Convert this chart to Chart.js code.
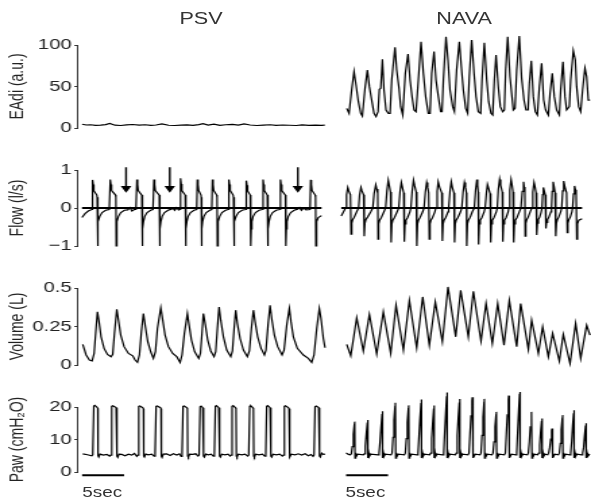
<!DOCTYPE html>
<html>
<head>
<meta charset="utf-8">
<script src="https://cdn.jsdelivr.net/npm/chart.js@4.4.1/dist/chart.umd.min.js"></script>
<style>
  html, body { margin: 0; padding: 0; background: #fff; overflow: hidden; }
  #wrap {
    position: absolute; left: 0; top: 0; width: 438px; height: 502px;
    transform: scaleX(1.3493); transform-origin: 0 0;
    font-family: "Liberation Sans", Arial, sans-serif; color: #333;
  }
  #wrap canvas { position: absolute; left: 0; }
  .lbl { position: absolute; white-space: nowrap; text-align: center; }
</style>
</head>
<body>
<div id="wrap">
  <div class="lbl" style="left:119px;top:10px;width:60px;font-size:16px;line-height:18px;">PSV</div>
  <div class="lbl" style="left:314px;top:10px;width:60px;font-size:16px;line-height:18px;">NAVA</div>
  <canvas id="rowEadi"></canvas>
  <canvas id="rowFlow"></canvas>
  <canvas id="rowVol"></canvas>
  <canvas id="rowPaw"></canvas>
  <div class="lbl" style="left:61px;top:484px;font-size:14px;line-height:16px;text-align:left;">5sec</div>
  <div class="lbl" style="left:256px;top:484px;font-size:14px;line-height:16px;text-align:left;">5sec</div>
</div>
<script>
// time in seconds, each column starts at 0
const psvEadi = [[0,4.5],[0.5,3.6],[1.0,3.9],[1.6,3.2],[2.2,3.5],[2.8,4.0],[3.3,5.4],[3.9,3.4],[4.6,3.0],[5.3,3.8],[6.0,4.2],[6.8,3.5],[7.5,3.9],[8.2,3.1],[8.8,3.6],[9.5,5.0],[10.3,3.3],[11.0,3.0],[11.8,3.4],[12.5,3.8],[13.2,3.2],[13.9,4.1],[14.4,5.3],[15.0,3.6],[15.7,4.6],[16.4,3.2],[17.1,3.9],[17.9,4.4],[18.6,3.5],[19.3,4.9],[20.0,3.6],[20.8,3.0],[21.6,3.4],[22.4,3.9],[23.1,3.1],[23.9,3.6],[24.7,3.3],[25.5,3.0],[26.2,3.7],[27.0,3.2],[27.8,3.5],[28.5,3.1],[28.9,3.4]];

const navaEadi = [[0.08,23.7],[0.36,17.7],[0.67,45.8],[0.95,67.9],[1.19,51.8],[1.47,31.7],[1.75,17.7],[1.94,14.5],[2.26,47.8],[2.54,69.9],[2.78,49.8],[3.02,35.7],[3.33,17.7],[3.57,13.7],[3.81,19.7],[3.97,46.6],[4.13,47.8],[4.33,82.7],[4.52,45.8],[4.76,21.7],[5.04,17.7],[5.24,17.7],[5.44,57.8],[5.83,97.2],[6.03,69.9],[6.31,47.8],[6.51,25.7],[6.75,15.7],[7.06,65.9],[7.38,89.2],[7.62,57.8],[7.86,37.8],[8.10,21.7],[8.33,19.7],[8.61,57.8],[8.93,104.0],[9.21,65.9],[9.48,37.8],[9.80,17.7],[10.00,17.7],[10.20,65.9],[10.48,92.0],[10.71,57.8],[10.99,37.8],[11.27,19.7],[11.43,19.7],[11.59,57.8],[11.90,110.0],[12.14,81.9],[12.38,45.8],[12.70,25.7],[12.90,19.7],[13.17,69.9],[13.49,104.0],[13.73,73.9],[13.97,45.8],[14.25,23.7],[14.48,17.7],[14.68,61.8],[14.96,106.0],[15.24,65.9],[15.48,37.8],[15.75,19.7],[16.03,17.7],[16.19,57.8],[16.47,102.8],[16.75,57.8],[16.98,31.7],[17.26,17.7],[17.46,15.7],[17.66,57.8],[17.86,88.0],[18.13,49.8],[18.37,25.7],[18.65,19.7],[18.85,21.7],[19.01,69.9],[19.25,110.0],[19.52,61.8],[19.76,37.8],[19.92,21.7],[20.12,23.7],[20.32,69.9],[20.63,110.8],[20.91,59.8],[21.19,33.7],[21.43,21.7],[21.67,21.7],[21.83,53.8],[22.06,81.1],[22.30,37.8],[22.54,19.7],[22.78,15.7],[23.02,49.8],[23.29,77.9],[23.53,33.7],[23.77,21.7],[24.09,15.7],[24.29,41.8],[24.56,65.9],[24.80,37.8],[25.08,21.7],[25.40,15.7],[25.56,45.8],[25.83,79.9],[26.07,37.8],[26.27,21.7],[26.59,25.7],[26.75,57.8],[27.06,93.2],[27.30,81.9],[27.46,49.8],[27.70,25.7],[27.94,19.7],[28.17,45.8],[28.45,71.9],[28.65,61.8],[28.85,33.7],[29.05,33.7]];

const psvFlow = [[0,-0.25],[0.36,-0.15],[0.75,-0.08],
  [1.19,-0.04],[1.27,0.74],[1.35,0.62],[1.43,0.45],[1.79,0.34],[1.83,0.28],[1.87,-1.0],[1.90,-0.55],[1.98,-0.36],[2.14,-0.22],[2.42,-0.12],[2.86,-0.06],
  [3.29,-0.04],[3.41,0.75],[3.49,0.62],[3.57,0.46],[4.05,0.34],[4.09,0.28],[4.13,-1.0],[4.17,-0.55],[4.25,-0.36],[4.40,-0.22],[4.68,-0.12],[5.12,-0.06],[5.52,-0.05],[5.79,0.01],[6.03,-0.08],[6.31,-0.04],
  [6.51,-0.04],[6.63,0.75],[6.71,0.62],[6.79,0.46],[7.22,0.34],[7.26,0.28],[7.30,-1.0],[7.34,-0.55],[7.42,-0.36],[7.58,-0.22],[7.86,-0.12],[8.29,-0.06],
  [8.57,-0.04],[8.69,0.75],[8.77,0.62],[8.85,0.46],[9.33,0.34],[9.37,0.28],[9.40,-1.0],[9.44,-0.55],[9.52,-0.36],[9.68,-0.22],[9.96,-0.12],[10.40,-0.06],[10.79,-0.03],[10.95,0.0],[11.19,-0.06],[11.43,0.01],[11.67,-0.05],
  [11.83,-0.04],[11.90,0.78],[11.98,0.63],[12.06,0.46],[12.46,0.34],[12.50,0.28],[12.54,-1.0],[12.58,-0.55],[12.66,-0.36],[12.82,-0.22],[13.10,-0.12],[13.53,-0.06],
  [13.85,-0.04],[13.93,0.75],[14.01,0.62],[14.09,0.46],[14.37,0.34],[14.40,0.28],[14.44,-1.0],[14.48,-0.55],[14.56,-0.36],[14.72,-0.22],[15.00,-0.12],[15.44,-0.06],
  [15.67,-0.04],[15.75,0.75],[15.83,0.62],[15.91,0.46],[16.27,0.34],[16.31,0.28],[16.35,-1.0],[16.39,-0.55],[16.47,-0.36],[16.63,-0.22],[16.90,-0.12],[17.34,-0.06],
  [17.66,-0.04],[17.74,0.75],[17.82,0.62],[17.90,0.46],[18.25,0.34],[18.29,0.28],[18.33,-1.0],[18.37,-0.55],[18.45,-0.36],[18.61,-0.22],[18.89,-0.12],[19.33,-0.06],
  [19.76,-0.04],[19.84,0.72],[19.92,0.60],[20.00,0.45],[20.32,0.34],[20.36,0.28],[20.40,-1.0],[20.44,-0.55],[20.52,-0.36],[20.67,-0.22],[20.95,-0.12],[21.39,-0.06],
  [21.79,-0.04],[21.87,0.75],[21.94,0.62],[22.02,0.46],[22.38,0.34],[22.42,0.28],[22.46,-1.0],[22.50,-0.55],[22.58,-0.36],[22.74,-0.22],[23.02,-0.12],[23.45,-0.06],
  [23.89,-0.04],[23.97,0.75],[24.05,0.62],[24.13,0.46],[24.56,0.34],[24.60,0.28],[24.64,-1.0],[24.68,-0.55],[24.76,-0.36],[24.92,-0.22],[25.20,-0.12],[25.63,-0.06],[26.03,-0.03],[26.27,0.01],[26.51,-0.06],[26.75,0.0],[27.06,-0.05],
  [27.54,-0.04],[27.62,0.74],[27.70,0.62],[27.78,0.46],[28.17,0.34],[28.21,0.28],[28.25,-1.0],[28.29,-0.55],[28.37,-0.36],[28.53,-0.25],[28.93,-0.2]];

const navaFlow = [[-0.12,-0.21],[0.16,-0.10],
  [0.40,0],[0.52,0.35],[0.67,0.54],[0.79,0.45],[0.99,0.35],[1.07,-0.69],[1.15,-0.40],[1.27,-0.30],[1.43,-0.25],[1.75,-0.10],
  [1.98,0],[2.10,0.35],[2.26,0.54],[2.38,0.45],[2.58,0.35],[2.66,-0.74],[2.74,-0.40],[2.86,-0.30],[3.06,-0.24],[3.45,-0.10],
  [3.69,0],[3.85,0.38],[4.05,0.61],[4.17,0.50],[4.29,0.38],[4.33,-0.82],[4.40,-0.42],[4.52,-0.32],[4.72,-0.25],[5.04,-0.10],
  [5.24,0],[5.40,0.45],[5.56,0.73],[5.67,0.60],[5.83,0.42],[5.91,-0.91],[5.99,-0.42],[6.11,-0.32],[6.31,-0.25],[6.63,-0.10],
  [6.83,0],[6.98,0.42],[7.14,0.67],[7.26,0.55],[7.42,0.40],[7.50,-0.89],[7.58,-0.42],[7.70,-0.32],[7.90,-0.25],[8.17,-0.10],
  [8.29,0],[8.45,0.45],[8.61,0.73],[8.73,0.60],[8.93,0.42],[9.01,-1.0],[9.09,-0.42],[9.21,-0.32],[9.40,-0.25],[9.72,-0.10],
  [9.88,0],[10.04,0.42],[10.20,0.67],[10.32,0.55],[10.44,0.40],[10.52,-0.82],[10.60,-0.42],[10.71,-0.32],[10.91,-0.25],[11.19,-0.10],
  [11.31,0],[11.47,0.44],[11.59,0.69],[11.75,0.55],[12.02,0.40],[12.10,-0.87],[12.18,-0.42],[12.30,-0.32],[12.50,-0.25],[12.78,-0.10],
  [12.86,0],[13.02,0.44],[13.17,0.69],[13.29,0.55],[13.49,0.40],[13.57,-0.91],[13.65,-0.42],[13.77,-0.32],[13.97,-0.25],[14.29,-0.10],
  [14.44,0],[14.60,0.42],[14.76,0.67],[14.88,0.55],[15.00,0.40],[15.04,-1.0],[15.12,-0.42],[15.24,-0.32],[15.44,-0.25],[15.71,-0.10],
  [15.95,0],[16.11,0.47],[16.27,0.75],[16.35,0.60],[16.43,0.42],[16.47,-0.96],[16.55,-0.42],[16.67,-0.32],[16.87,-0.25],[17.14,-0.10],
  [17.26,0],[17.42,0.40],[17.54,0.62],[17.70,0.50],[17.86,0.38],[17.94,-0.91],[18.02,-0.42],[18.13,-0.32],[18.33,-0.25],[18.61,-0.10],
  [18.73,0],[18.85,0.47],[19.01,0.75],[19.13,0.60],[19.33,0.42],[19.40,-0.89],[19.48,-0.42],[19.60,-0.32],[19.80,-0.25],[20.04,-0.10],
  [20.12,0],[20.24,0.47],[20.40,0.75],[20.52,0.60],[20.63,0.42],[20.71,-0.91],[20.79,-0.42],[20.91,-0.32],[21.11,-0.25],[21.39,-0.10],
  [21.59,0],[21.75,0.44],[21.90,0.69],[21.98,0.55],[22.06,0.40],[22.10,-0.74],[22.18,-0.40],[22.30,-0.30],[22.46,-0.24],[22.70,-0.10],
  [22.90,0],[23.02,0.42],[23.17,0.67],[23.29,0.55],[23.41,0.40],[23.49,-0.71],[23.57,-0.40],[23.69,-0.30],[23.85,-0.24],[24.01,-0.12],
  [24.13,0],[24.21,0.35],[24.29,0.54],[24.40,0.45],[24.52,0.35],[24.60,-0.54],[24.68,-0.38],[24.80,-0.30],[24.96,-0.24],[25.20,-0.10],
  [25.28,0],[25.36,0.44],[25.48,0.69],[25.60,0.55],[25.71,0.40],[25.79,-0.74],[25.87,-0.40],[25.99,-0.30],[26.15,-0.24],[26.39,-0.10],
  [26.51,0],[26.63,0.45],[26.75,0.71],[26.90,0.55],[27.10,0.40],[27.18,-0.65],[27.26,-0.40],[27.38,-0.30],[27.54,-0.24],[27.74,-0.10],
  [27.82,0],[27.94,0.37],[28.06,0.58],[28.17,0.48],[28.25,0.38],[28.33,-0.82],[28.41,-0.42],[28.57,-0.32],[28.97,-0.28]];

// ineffective efforts marked in the PSV flow trace
const arrowTimes = [5.32, 10.6, 26.07];
const arrowTop = 1.07;
const arrowHead = 0.52;

const psvVolume = [[0.08,0.134],[0.48,0.065],[0.87,0.032],[1.19,0.026],[1.43,0.075],[1.63,0.216],[1.83,0.345],[2.02,0.280],[2.26,0.183],[2.62,0.108],[3.02,0.069],[3.45,0.054],[3.65,0.069],[3.85,0.205],[4.13,0.362],[4.33,0.291],[4.60,0.194],[5.00,0.119],[5.52,0.075],[6.03,0.060],[6.31,0.032],[6.59,0.017],[6.83,0.065],[7.06,0.216],[7.30,0.334],[7.54,0.248],[7.82,0.151],[8.17,0.086],[8.49,0.043],[8.73,0.086],[8.97,0.237],[9.37,0.371],[9.60,0.291],[9.88,0.194],[10.28,0.119],[10.79,0.075],[11.27,0.054],[11.67,0.017],[11.90,0.065],[12.18,0.205],[12.54,0.334],[12.74,0.259],[13.02,0.162],[13.41,0.086],[13.89,0.043],[14.09,0.075],[14.29,0.216],[14.44,0.334],[14.68,0.259],[14.96,0.162],[15.32,0.091],[15.71,0.054],[15.91,0.086],[16.11,0.237],[16.31,0.377],[16.51,0.291],[16.83,0.183],[17.22,0.097],[17.70,0.054],[17.90,0.091],[18.10,0.237],[18.29,0.356],[18.49,0.270],[18.81,0.172],[19.21,0.097],[19.68,0.054],[19.92,0.091],[20.16,0.237],[20.40,0.356],[20.60,0.280],[20.91,0.183],[21.31,0.108],[21.71,0.065],[21.90,0.097],[22.14,0.259],[22.38,0.388],[22.58,0.302],[22.90,0.194],[23.29,0.119],[23.81,0.065],[24.05,0.097],[24.37,0.259],[24.68,0.367],[24.88,0.280],[25.16,0.183],[25.63,0.108],[26.35,0.065],[26.94,0.043],[27.34,0.017],[27.62,0.065],[27.94,0.237],[28.25,0.367],[28.45,0.302],[28.73,0.172],[28.93,0.112]];

const navaVolume = [[0.08,0.134],[0.56,0.060],[1.27,0.306],[2.06,0.091],[2.78,0.328],[3.65,0.071],[4.44,0.345],[5.32,0.075],[5.95,0.388],[6.83,0.097],[7.54,0.420],[8.41,0.112],[9.13,0.442],[9.92,0.129],[10.63,0.410],[11.47,0.151],[12.14,0.507],[13.06,0.183],[13.65,0.485],[14.56,0.183],[15.16,0.479],[16.07,0.155],[16.67,0.399],[17.42,0.140],[18.06,0.399],[18.81,0.129],[19.44,0.420],[20.32,0.119],[20.79,0.399],[21.71,0.103],[22.10,0.291],[22.90,0.075],[23.41,0.248],[24.09,0.054],[24.60,0.205],[25.40,0.026],[25.87,0.198],[26.67,0.011],[27.34,0.270],[27.94,0.043],[28.65,0.259],[29.05,0.194]];

const psvPaw = [[0.08,5.6],[0.63,5.3],[1.15,5.0],[1.27,5.3],[1.39,20.3],[1.51,20.5],[1.79,19.9],[1.87,19.6],[1.90,5.0],[1.98,4.6],[2.14,5.5],[2.54,5.2],[2.94,5.4],
  [3.29,4.9],[3.41,5.2],[3.53,20.2],[3.65,20.4],[4.05,19.8],[4.13,19.5],[4.17,4.9],[4.25,4.5],[4.40,5.5],[4.72,5.4],[5.12,5.0],[5.52,5.5],[5.91,5.2],[6.23,5.7],
  [6.51,4.8],[6.63,5.2],[6.75,20.2],[6.87,20.3],[7.22,19.8],[7.30,19.5],[7.34,4.9],[7.42,4.6],[7.58,5.5],[7.90,5.3],[8.29,5.5],
  [8.57,4.9],[8.69,5.2],[8.81,20.2],[8.93,20.3],[9.33,19.8],[9.40,19.5],[9.44,4.9],[9.52,4.5],[9.68,5.5],[10.08,5.6],[10.48,5.1],[10.87,5.6],[11.27,5.2],[11.59,5.6],
  [11.79,4.8],[11.90,5.2],[12.02,20.2],[12.14,20.3],[12.46,19.8],[12.54,19.5],[12.58,4.9],[12.66,4.6],[12.82,5.5],[13.17,5.4],[13.53,5.6],
  [13.81,4.9],[13.93,5.2],[14.05,20.1],[14.17,20.3],[14.37,19.8],[14.44,19.5],[14.48,4.9],[14.56,4.6],[14.72,5.5],[15.04,5.3],[15.36,5.5],
  [15.63,4.9],[15.75,5.2],[15.87,20.2],[15.99,20.4],[16.27,19.8],[16.35,19.5],[16.39,4.9],[16.47,4.6],[16.63,5.5],[17.02,5.3],[17.38,5.5],
  [17.62,4.9],[17.74,5.2],[17.86,20.2],[17.98,20.4],[18.25,19.8],[18.33,19.5],[18.37,4.9],[18.45,4.6],[18.61,5.5],[19.01,5.3],[19.40,5.5],
  [19.72,4.9],[19.84,5.2],[19.96,20.2],[20.08,20.4],[20.32,19.8],[20.40,19.5],[20.44,4.9],[20.52,4.6],[20.67,5.5],[21.07,5.3],[21.47,5.5],
  [21.75,4.9],[21.87,5.2],[21.98,20.2],[22.10,20.4],[22.38,19.8],[22.46,19.5],[22.50,4.9],[22.58,4.6],[22.74,5.5],[23.13,5.3],[23.53,5.5],
  [23.85,4.9],[23.97,5.2],[24.09,20.2],[24.21,20.4],[24.56,19.8],[24.64,19.5],[24.68,4.9],[24.76,4.6],[24.92,5.5],[25.36,5.3],[25.75,5.6],[26.15,5.2],[26.55,5.6],[26.94,5.0],[27.26,5.4],
  [27.50,4.8],[27.62,5.2],[27.74,20.1],[27.86,20.3],[28.17,19.8],[28.25,19.5],[28.29,4.9],[28.37,4.6],[28.53,5.8],[28.73,5.4],[28.93,5.5]];

const navaPaw = [[0,5.9],[0.28,5.4],
  [0.52,5.3],[0.63,5.6],[0.75,7.8],[0.87,11.6],[0.99,14.7],[1.03,15.5],[1.07,4.3],[1.15,5.9],[1.23,4.8],[1.39,5.5],
  [2.06,5.3],[2.18,5.6],[2.30,8.0],[2.42,12.0],[2.54,15.2],[2.58,16.0],[2.62,4.3],[2.70,5.9],[2.78,4.8],[2.94,5.5],
  [3.81,5.3],[3.93,5.8],[4.05,9.4],[4.17,14.0],[4.29,17.8],[4.33,18.7],[4.37,4.3],[4.44,5.9],[4.52,4.8],[4.68,5.5],
  [5.36,5.3],[5.48,5.8],[5.60,10.7],[5.71,16.0],[5.83,20.2],[5.87,21.3],[5.91,4.3],[5.99,5.9],[6.07,4.8],[6.23,5.5],
  [6.94,5.3],[7.06,5.8],[7.18,10.3],[7.30,15.4],[7.42,19.5],[7.46,20.5],[7.50,4.3],[7.58,5.9],[7.66,4.8],[7.82,5.5],
  [8.45,5.3],[8.57,5.8],[8.69,11.2],[8.81,16.7],[8.93,21.2],[8.97,22.3],[9.01,4.3],[9.09,5.9],[9.17,4.8],[9.33,5.5],
  [9.96,5.3],[10.08,5.8],[10.20,10.3],[10.32,15.4],[10.44,19.5],[10.48,20.5],[10.52,4.3],[10.60,5.9],[10.67,4.8],[10.83,5.5],
  [11.51,5.3],[11.63,5.8],[11.75,12.3],[11.87,18.4],[11.98,23.3],[12.02,24.5],[12.06,4.3],[12.14,5.9],[12.22,4.8],[12.38,5.5],
  [13.02,5.3],[13.13,5.8],[13.25,11.3],[13.37,16.9],[13.49,21.4],[13.53,22.5],[13.57,4.3],[13.65,5.9],[13.73,4.8],[13.89,5.5],
  [14.52,5.3],[14.64,5.8],[14.76,11.5],[14.88,17.3],[15.00,21.9],[15.04,23.0],[15.08,4.3],[15.16,5.9],[15.24,4.8],[15.40,5.5],
  [15.95,5.3],[16.07,5.8],[16.19,11.3],[16.31,16.9],[16.43,21.4],[16.47,22.5],[16.51,4.3],[16.59,5.9],[16.67,4.8],[16.83,5.5],
  [17.38,5.3],[17.50,5.8],[17.62,9.3],[17.74,13.9],[17.86,17.6],[17.90,18.5],[17.94,4.3],[18.02,5.9],[18.10,4.8],[18.25,5.5],
  [18.85,5.3],[18.97,5.8],[19.09,11.8],[19.21,17.6],[19.33,22.3],[19.37,23.5],[19.40,4.3],[19.48,5.9],[19.56,4.8],[19.72,5.5],
  [20.20,5.3],[20.32,5.8],[20.44,12.7],[20.56,19.1],[20.67,24.1],[20.71,25.4],[20.75,4.3],[20.83,5.9],[20.91,4.8],[21.07,5.5],
  [21.59,5.3],[21.71,5.8],[21.83,9.3],[21.94,13.9],[22.06,17.6],[22.10,18.5],[22.14,4.3],[22.22,5.9],[22.30,4.8],[22.46,5.5],
  [22.82,5.3],[22.94,5.8],[23.06,8.3],[23.17,12.4],[23.29,15.7],[23.33,16.5],[23.37,4.3],[23.45,5.9],[23.53,4.8],[23.69,5.5],
  [24.01,5.3],[24.13,5.8],[24.25,7.5],[24.37,10.1],[24.48,12.7],[24.52,13.4],[24.56,4.3],[24.64,5.9],[24.72,4.8],[24.88,5.5],
  [25.28,5.3],[25.40,5.8],[25.52,8.8],[25.63,13.1],[25.75,16.6],[25.79,17.5],[25.83,4.3],[25.91,5.9],[25.99,4.8],[26.15,5.5],
  [26.63,5.3],[26.75,5.8],[26.87,9.5],[26.98,14.3],[27.10,18.1],[27.14,19.0],[27.18,4.3],[27.26,5.9],[27.34,4.8],[27.50,5.5],
  [28.06,5.3],[28.17,5.8],[28.29,7.5],[28.41,11.3],[28.53,14.3],[28.57,15.0],[28.61,4.3],[28.69,5.9],[28.77,4.8],[29.01,5.5]];

const eadiTicks = [0, 50, 100];
const flowTicks = [-1, 0, 1];
const flowTickLabels = ["\u22121", "0", "1"];
const volTicks = [0, 0.25, 0.5];
const pawTicks = [0, 10, 20];

const scaleBarSec = 5;
const scaleBarLevel = -1.0;

// layout
const X_MIN = -0.6;
const X_MAX = 60.6;
const NAVA_SHIFT = 31.43;
const AXIS_W = 57.1;
const FONT = '"Liberation Sans", Arial, sans-serif';
const INK = "#000";
const AXIS = "#333";

function pts(pairs, shift) {
  return pairs.map((p) => ({ x: p[0] + shift, y: p[1] }));
}

function trace(pairs, shift, width) {
  return {
    data: pts(pairs, shift),
    showLine: true,
    borderColor: INK,
    borderWidth: width || 1.2,
    pointRadius: 0,
    clip: false,
  };
}

function arrow(t) {
  return {
    data: [{ x: t, y: arrowTop }, { x: t, y: arrowHead }],
    showLine: true,
    borderColor: "#000",
    backgroundColor: "#000",
    borderWidth: 1.4,
    pointRadius: [0, 3.2],
    pointStyle: "triangle",
    rotation: 180,
    clip: false,
  };
}

function makeRow(id, top, height, padBottom, tickVals, tickLabels, title, datasets) {
  const canvas = document.getElementById(id);
  canvas.width = 438;
  canvas.height = height;
  canvas.style.top = top + "px";

  return new Chart(canvas.getContext("2d"), {
    type: "scatter",
    data: { datasets: datasets },
    options: {
      responsive: false,
      animation: false,
      events: [],
      layout: { padding: { top: 15, bottom: padBottom, left: 0, right: 0 } },
      plugins: { legend: { display: false }, tooltip: { enabled: false } },
      scales: {
        x: { type: "linear", display: false, min: X_MIN, max: X_MAX },
        y: {
          min: tickVals[0],
          max: tickVals[tickVals.length - 1],
          afterFit: (scale) => {
            scale.width = AXIS_W;
          },
          afterBuildTicks: (scale) => {
            scale.ticks = tickVals.map((v) => ({ value: v }));
          },
          border: { display: true, color: AXIS, width: 1 },
          grid: { drawOnChartArea: false, drawTicks: true, tickLength: 2, color: AXIS },
          ticks: {
            padding: 2,
            color: "#222",
            font: { family: FONT, size: 15 },
            callback: (value, index) => (tickLabels ? tickLabels[index] : String(value)),
          },
          title: {
            display: true,
            text: title,
            color: "#222",
            font: { family: FONT, size: 14 },
            padding: { top: 5, bottom: 0 },
          },
        },
      },
    },
  });
}

makeRow("rowEadi", 30, 113, 15, eadiTicks, null, "EAdi (a.u.)", [
  trace(psvEadi, 0),
  trace(navaEadi, NAVA_SHIFT),
]);

makeRow("rowFlow", 155, 106, 15, flowTicks, flowTickLabels, "Flow (l/s)", [
  trace([[0, 0], [28.93, 0]], 0, 2),
  trace([[-0.12, 0], [28.97, 0]], NAVA_SHIFT, 2),
  trace(psvFlow, 0),
  trace(navaFlow, NAVA_SHIFT),
  ...arrowTimes.map(arrow),
]);

makeRow("rowVol", 273, 107, 15, volTicks, null, "Volume (L)", [
  trace(psvVolume, 0),
  trace(navaVolume, NAVA_SHIFT),
]);

makeRow("rowPaw", 392, 110, 30, pawTicks, null, "Paw (cmH\u2082O)", [
  trace(psvPaw, 0),
  trace(navaPaw, NAVA_SHIFT),
  trace([[0, scaleBarLevel], [scaleBarSec, scaleBarLevel]], 0, 2),
  trace([[0, scaleBarLevel], [scaleBarSec, scaleBarLevel]], NAVA_SHIFT, 2),
]);
</script>
</body>
</html>
